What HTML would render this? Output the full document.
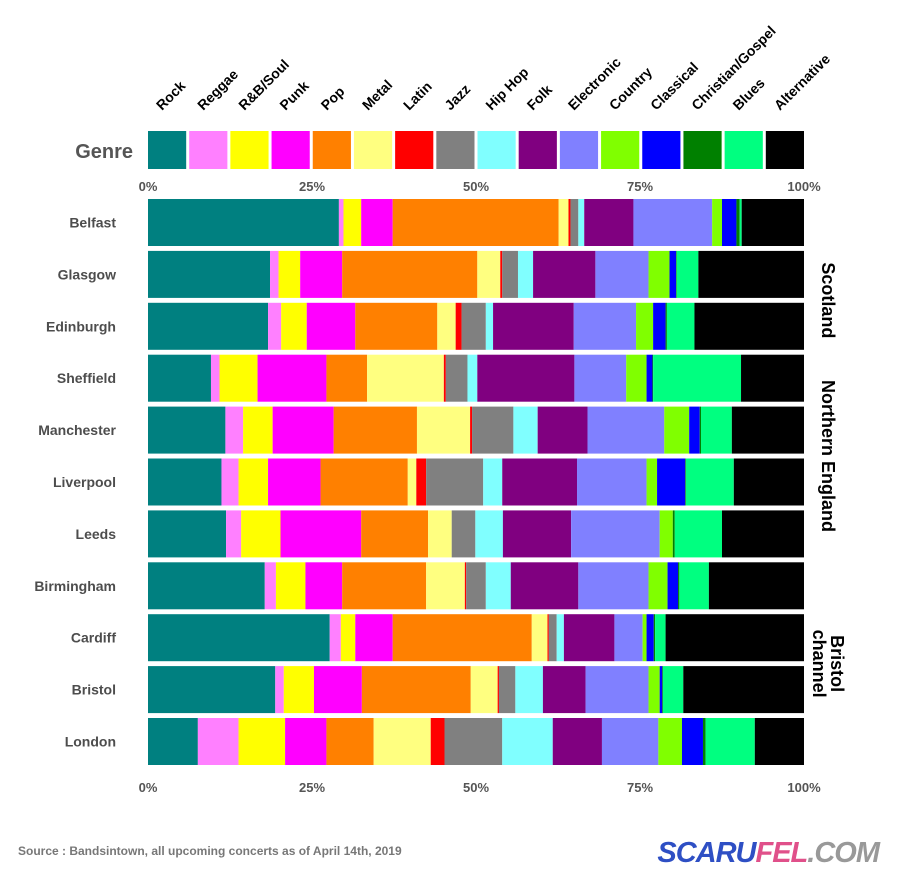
<!DOCTYPE html>
<html><head><meta charset="utf-8"><style>
html,body{margin:0;padding:0;background:#fff;}
svg{display:block;font-family:"Liberation Sans",sans-serif;}
</style></head><body>
<svg id="chart" width="899" height="887" viewBox="0 0 899 887" xmlns="http://www.w3.org/2000/svg"></svg>
<script>
const genres=["Rock","Reggae","R&B/Soul","Punk","Pop","Metal","Latin","Jazz","Hip Hop","Folk","Electronic","Country","Classical","Christian/Gospel","Blues","Alternative"];
const colors=["#008080","#ff80ff","#ffff00","#ff00ff","#ff8000","#ffff80","#ff0000","#808080","#80ffff","#800080","#8080ff","#80ff00","#0000ff","#008000","#00ff80","#000000"];
const cities=["Belfast","Glasgow","Edinburgh","Sheffield","Manchester","Liverpool","Leeds","Birmingham","Cardiff","Bristol","London"];
const belfast=[29.1,0.7,2.7,4.8,25.3,1.5,0.3,1.2,0.9,7.5,12.0,1.5,2.2,0.5,0.3,9.5];
const glasgow=[18.6,1.3,3.3,6.4,20.6,3.5,0.3,2.4,2.3,9.5,8.1,3.2,1.0,0.1,3.3,16.1];
const edinburgh=[18.3,2.0,3.9,7.4,12.5,2.8,0.9,3.7,1.1,12.3,9.5,2.6,1.9,0.2,4.2,16.7];
const sheffield=[9.6,1.3,5.8,10.5,6.2,11.7,0.3,3.3,1.5,14.8,7.9,3.1,0.9,0.1,13.4,9.6];
const manchester=[11.8,2.7,4.5,9.3,12.7,8.1,0.3,6.3,3.7,7.6,11.7,3.8,1.6,0.2,4.7,11.0];
const liverpool=[11.2,2.6,4.5,8.0,13.3,1.3,1.5,8.7,2.9,11.4,10.6,1.6,4.3,0.1,7.3,10.7];
const leeds=[11.9,2.3,6.0,12.3,10.2,3.6,0,3.6,4.2,10.4,13.5,2.0,0,0.3,7.2,12.5];
const birmingham=[17.8,1.7,4.5,5.6,12.8,5.9,0.2,3.0,3.8,10.3,10.7,2.9,1.6,0.2,4.5,14.5];
const cardiff=[27.7,1.7,2.2,5.7,21.2,2.4,0.2,1.2,1.1,7.7,4.3,0.6,1.1,0.2,1.6,21.1];
const bristol=[19.4,1.3,4.6,7.3,16.6,4.1,0.2,2.5,4.2,6.5,9.6,1.7,0.4,0.1,3.1,18.4];
const london=[7.6,6.2,7.1,6.3,7.2,8.7,2.1,8.8,7.7,7.5,8.6,3.6,3.2,0.4,7.5,7.5];
const series=[belfast,glasgow,edinburgh,sheffield,manchester,liverpool,leeds,birmingham,cardiff,bristol,london];
const ticks=[0,25,50,75,100];
const tickLabels=["0%","25%","50%","75%","100%"];

const svg=document.getElementById('chart');
const NS="http://www.w3.org/2000/svg";
function mk(tag,attrs,parent){const e=document.createElementNS(NS,tag);for(const k in attrs)e.setAttribute(k,attrs[k]);(parent||svg).appendChild(e);return e;}
const x0=148,x1=804;
function xs(p){return x0+(x1-x0)*p/100;}
const rowTop0=199,rowPitch=51.9,rowH=47;
function ys(i){return rowTop0+i*rowPitch;}

// legend
const legY=131,legH=38,legPitch=(x1-x0+3)/genres.length;
genres.forEach((g,i)=>{
  const lx=x0+i*legPitch;
  const r=mk('rect',{x:lx,y:legY,width:legPitch-3,height:legH,fill:colors[i]});
  
  
  const ax=lx+14,ay=legY-20;
  const t=mk('text',{x:ax,y:ay,'font-size':14,'font-weight':'bold',fill:'#000',transform:`rotate(-45 ${ax} ${ay})`});
  t.textContent=g;
  
  
});
const gl=mk('text',{x:133,y:158,'font-size':20,'font-weight':'bold',fill:'#555','text-anchor':'end'});
gl.textContent="Genre";



// axis labels
ticks.forEach((t,i)=>{
  [191,792].forEach((yy,j)=>{
    const tx=mk('text',{x:xs(t),y:yy,'font-size':13,'font-weight':'bold',fill:'#555','text-anchor':'middle'});
    tx.textContent=tickLabels[i];
    
    
  });
});

// bars
series.forEach((vals,ci)=>{
  const tot=vals.reduce((a,b)=>a+b,0);
  let cum=0;
  const y=ys(ci);
  vals.forEach((v,gi)=>{
    const a=xs(cum/tot*100),b=xs((cum+v)/tot*100);
    cum+=v;
    if(v<=0)return;
    const r=mk('rect',{x:a,y:y,width:b-a,height:rowH,fill:colors[gi]});
    
    
  });
  const lb=mk('text',{x:116,y:y+rowH/2+5,'font-size':14,'font-weight':'bold',fill:'#4d4d4d','text-anchor':'end'});
  lb.textContent=cities[ci];
  
  
});

// region labels
function region(lines,cy){
  const g=mk('g',{transform:`translate(828 ${cy}) rotate(90)`});
  lines.forEach((l,i)=>{
    const t=mk('text',{x:0,y:(i-(lines.length-1)/2)*18+6,'font-size':18,'font-weight':'bold',fill:'#000','text-anchor':'middle'},g);
    t.textContent=l;
  });
  
  
}
region(["Scotland"],ys(1)+(rowPitch+rowH)/2);
region(["Northern England"],456);
region(["Bristol","channel"],ys(8)+(rowPitch+rowH)/2);

const src=mk('text',{x:18,y:855,'font-size':12,'font-weight':'bold',fill:'#777'});
src.textContent="Source : Bandsintown, all upcoming concerts as of April 14th, 2019";


const logo=mk('text',{x:879,y:862,'font-size':29,'font-weight':'bold','font-style':'italic',fill:'#3a5fd0','text-anchor':'end','letter-spacing':'-1'});
logo.innerHTML='<tspan fill="#2e4fc4">SCARU</tspan><tspan fill="#e0508a">FEL</tspan><tspan fill="#999">.COM</tspan>';


</script>
</body></html>
